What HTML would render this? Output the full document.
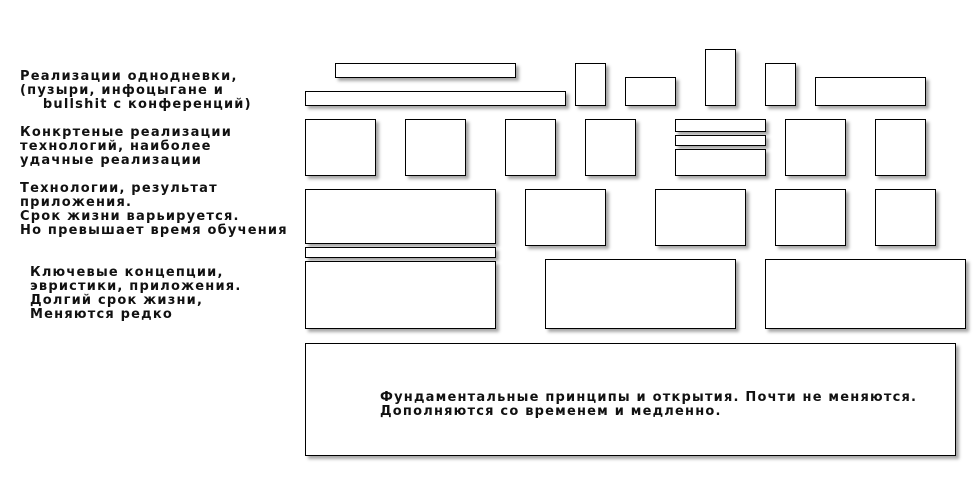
<!DOCTYPE html>
<html><head><meta charset="utf-8"><style>
body{margin:0;width:980px;height:490px;background:#fff;position:relative;overflow:hidden;font-family:"DejaVu Sans","Liberation Sans",sans-serif;font-size:13px;color:#000}
.b{position:absolute;border:1px solid #000;background:#fff;box-sizing:border-box;box-shadow:3px 3px 3px rgba(0,0,0,0.35)}
.t{position:absolute;line-height:14px;white-space:pre;font-weight:bold;letter-spacing:1.2px;color:#111}
</style></head><body>
<div class="t" style="left:20px;top:70px">Реализации однодневки,
(пузыри, инфоцыгане и
    bullshit с конференций)</div>
<div class="t" style="left:20px;top:126px">Конкртеные реализации
технологий, наиболее
удачные реализации</div>
<div class="t" style="left:20px;top:182px">Технологии, результат
приложения.
Срок жизни варьируется.
Но превышает время обучения</div>
<div class="t" style="left:30px;top:266px">Ключевые концепции,
эвристики, приложения.
Долгий срок жизни,
Меняются редко</div>

<div class="b" style="left:335px;top:63px;width:181px;height:15px"></div>
<div class="b" style="left:305px;top:91px;width:261px;height:15px"></div>
<div class="b" style="left:575px;top:63px;width:31px;height:43px"></div>
<div class="b" style="left:625px;top:77px;width:51px;height:29px"></div>
<div class="b" style="left:705px;top:49px;width:31px;height:57px"></div>
<div class="b" style="left:765px;top:63px;width:31px;height:43px"></div>
<div class="b" style="left:815px;top:77px;width:111px;height:29px"></div>

<div class="b" style="left:305px;top:119px;width:71px;height:57px"></div>
<div class="b" style="left:405px;top:119px;width:61px;height:57px"></div>
<div class="b" style="left:505px;top:119px;width:51px;height:57px"></div>
<div class="b" style="left:585px;top:119px;width:51px;height:57px"></div>
<div class="b" style="left:675px;top:119px;width:91px;height:13px"></div>
<div class="b" style="left:675px;top:135px;width:91px;height:11px"></div>
<div class="b" style="left:675px;top:149px;width:91px;height:27px"></div>
<div class="b" style="left:785px;top:119px;width:61px;height:57px"></div>
<div class="b" style="left:875px;top:119px;width:51px;height:57px"></div>

<div class="b" style="left:305px;top:189px;width:191px;height:55px"></div>
<div class="b" style="left:305px;top:247px;width:191px;height:11px"></div>
<div class="b" style="left:525px;top:189px;width:81px;height:57px"></div>
<div class="b" style="left:655px;top:189px;width:91px;height:57px"></div>
<div class="b" style="left:775px;top:189px;width:71px;height:57px"></div>
<div class="b" style="left:875px;top:189px;width:61px;height:57px"></div>

<div class="b" style="left:305px;top:261px;width:191px;height:68px"></div>
<div class="b" style="left:545px;top:259px;width:191px;height:70px"></div>
<div class="b" style="left:765px;top:259px;width:201px;height:70px"></div>

<div class="b" style="left:305px;top:343px;width:651px;height:113px"></div>
<div class="t" style="left:380px;top:391px">Фундаментальные принципы и открытия. Почти не меняются.
Дополняются со временем и медленно.</div>
</body></html>
